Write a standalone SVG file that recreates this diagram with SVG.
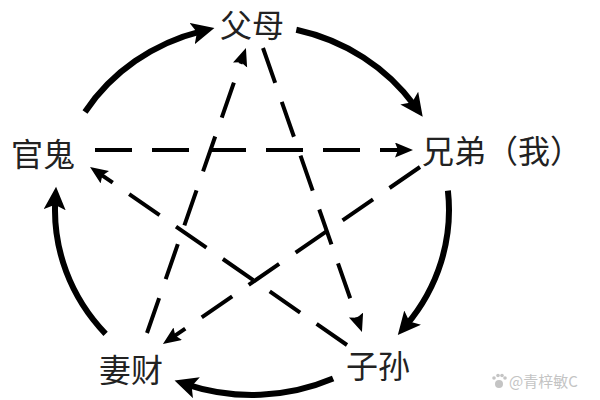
<svg xmlns="http://www.w3.org/2000/svg" width="600" height="400" viewBox="0 0 600 400">
<style>
.lbl{font-family:"Noto Sans CJK SC","Noto Sans CJK JP",sans-serif;font-size:32px;fill:#222;}
.arc{fill:none;stroke:#000;stroke-width:6;stroke-linecap:butt;}
.dash{fill:none;stroke:#000;stroke-width:4;stroke-dasharray:37 20;}
.wm{font-family:"Noto Sans CJK SC",sans-serif;font-size:15px;fill:#c4c4c4;}
</style>
<defs>
<marker id="big" markerUnits="userSpaceOnUse" markerWidth="26" markerHeight="24" viewBox="0 0 26 24" refX="10" refY="11" orient="auto">
<path d="M0,0 L23,11 L0,22 L5,11 z" fill="#000"/>
</marker>
<marker id="small" markerUnits="userSpaceOnUse" markerWidth="20" markerHeight="16" viewBox="0 0 20 16" refX="6" refY="7.5" orient="auto">
<path d="M0,0 L18,7.5 L0,15 L3,7.5 z" fill="#000"/>
</marker>
</defs>
<rect width="600" height="400" fill="#fff"/>
<g id="connectors">
<path class="arc" d="M85,112 A197,185 0 0 1 201.8,31.1" marker-end="url(#big)"/>
<path class="arc" d="M296.3,29.7 A197,185 0 0 1 415.1,106.3" marker-end="url(#big)"/>
<path class="arc" d="M447.9,190.7 A197,185 0 0 1 406.2,325.2" marker-end="url(#big)"/>
<path class="arc" d="M333.1,378.6 A197,185 0 0 1 186.9,384.6" marker-end="url(#big)"/>
<path class="arc" d="M105.6,333.8 A197,185 0 0 1 55.3,199.7" marker-end="url(#big)"/>
<path class="dash" d="M95,150 L401,150" marker-end="url(#small)"/>
<path class="dash" d="M420,167 L172.8,337.2" marker-end="url(#small)"/>
<path class="dash" d="M147,333 L242,59.3" marker-end="url(#small)"/>
<path class="dash" d="M263,48 L358,320.7" marker-end="url(#small)"/>
<path class="dash" d="M347,345 L99.9,173.8" marker-end="url(#small)"/>
</g>
<g id="fumu"><text class="lbl" x="252" y="37" text-anchor="middle">父母</text></g>
<g id="guangui"><text class="lbl" x="11" y="166">官鬼</text></g>
<g id="xiongdi"><text class="lbl" x="422" y="163">兄弟（我）</text></g>
<g id="qicai"><text class="lbl" x="99" y="382">妻财</text></g>
<g id="zisun"><text class="lbl" x="346" y="378">子孙</text></g>
<g id="watermark">
<circle cx="499" cy="384" r="4" fill="#c4c4c4"/>
<circle cx="494" cy="378" r="1.8" fill="#c4c4c4"/>
<circle cx="498" cy="375.5" r="1.8" fill="#c4c4c4"/>
<circle cx="502" cy="375.5" r="1.8" fill="#c4c4c4"/>
<circle cx="505" cy="378" r="1.8" fill="#c4c4c4"/>
<text class="wm" x="509" y="387">@青梓敏C</text>
</g>
</svg>
